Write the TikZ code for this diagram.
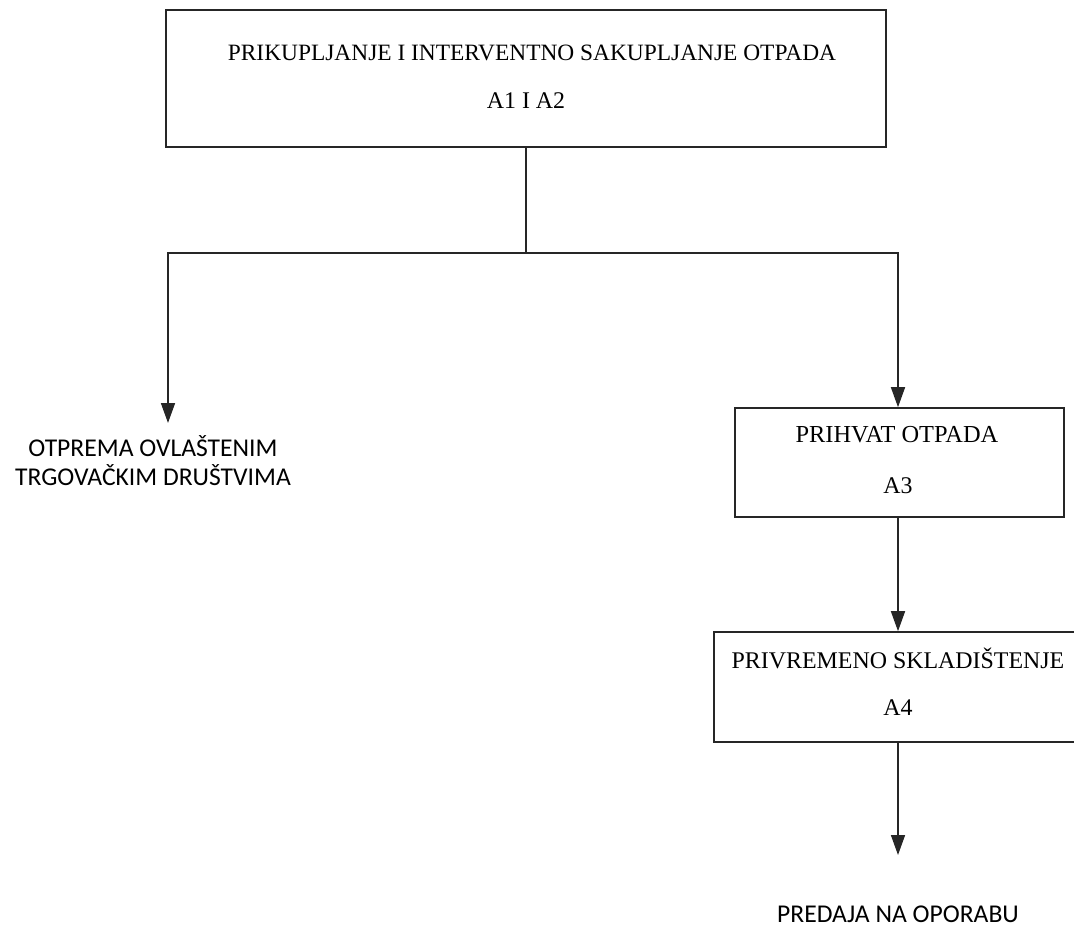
\documentclass[tikz,border=0pt]{standalone}
\usepackage{fontspec}
\setmainfont{Liberation Serif}
\newfontfamily\calibri{Carlito}
\usetikzlibrary{arrows.meta}
\begin{document}
\begin{tikzpicture}[x=1pt,y=-1pt,
  box/.style={draw=black!85, line width=1.6pt, inner sep=0pt},
  boxtext/.style={align=center, inner sep=0pt, font=\fontsize{23.9}{27}\selectfont},
  conn/.style={draw=black!85, line width=1.6pt},
  arr/.style={conn, -{Triangle[length=20pt,width=14pt]}},
  lbl/.style={align=center, inner sep=0pt, font=\calibri\fontsize{25.6}{29}\selectfont}]
\useasboundingbox (0,0) rectangle (1074,929);
\clip (0,0) rectangle (1074,929);
\node[box, minimum width=720pt, minimum height=137pt] (top) at (526,78.5) {};
\node[boxtext, font=\fontsize{23.4}{27}\selectfont] (topa) at (532,53) {PRIKUPLJANJE I INTERVENTNO SAKUPLJANJE OTPADA};
\node[boxtext] (topb) at (526,101) {A1 I A2};
\node[box, minimum width=329pt, minimum height=109pt] (prihvat) at (899.5,462.5) {};
\node[boxtext, font=\fontsize{24.4}{27}\selectfont] (prihvata) at (897,435) {PRIHVAT OTPADA};
\node[boxtext] (prihvatb) at (898,486) {A3};
\node[box, minimum width=368pt, minimum height=110pt] (privremeno) at (898,687) {};
\node[boxtext] (privremenoa) at (898,658) {PRIVREMENO SKLADIŠTENJE};
\node[boxtext] (privremenob) at (898,708) {A4};
\node[lbl] (otprema) at (153,461) {OTPREMA OVLAŠTENIM\\TRGOVAČKIM DRUŠTVIMA};
\node[lbl] (predaja) at (898,914) {PREDAJA NA OPORABU};
\coordinate (j) at (526,253);
\coordinate (ltip) at (168,423);
\coordinate (rtip) at (898,855);
\draw[conn] (top.south) -- (j);
\draw[arr] (j) -| (ltip);
\draw[arr] (j) -| (prihvat.north -| 898,0);
\draw[arr] (prihvat.south -| 898,0) -- (privremeno.north);
\draw[arr] (privremeno.south) -- (rtip);
\end{tikzpicture}
\end{document}
